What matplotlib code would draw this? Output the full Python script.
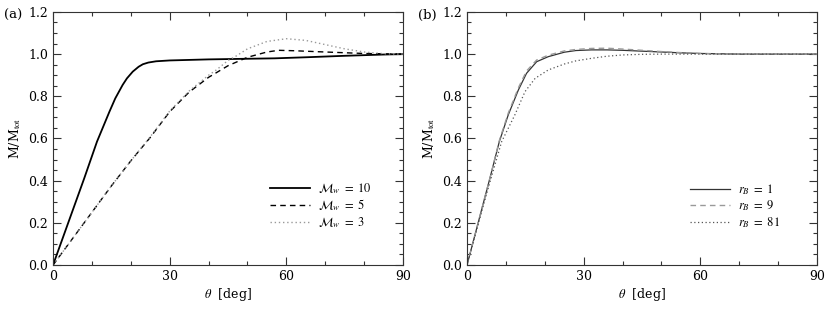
import matplotlib
matplotlib.use("Agg")
import matplotlib.pyplot as plt
from matplotlib.ticker import MultipleLocator

plt.rcParams['font.family'] = ['DejaVu Serif']
plt.rcParams['mathtext.fontset'] = 'stix'
plt.rcParams['font.size'] = 9

# panel (a): Mach number of the wind
theta_m10 = [0, 4, 8, 11.3, 14.5, 16, 17.9, 19, 20.5, 22, 23.1, 24.5, 26.5,
             30, 40, 50, 57, 65, 75, 85, 90]
frac_m10 = [0, 0.205, 0.41, 0.585, 0.727, 0.79, 0.854, 0.885, 0.917, 0.94,
            0.952, 0.96, 0.966, 0.97, 0.975, 0.978, 0.98, 0.985, 0.992, 0.998, 1.0]

theta_m5 = [0, 5, 10, 15, 20, 25, 30, 35, 40, 45, 50, 55, 58, 62, 70, 80, 90]
frac_m5 = [0, 0.125, 0.25, 0.375, 0.494, 0.605, 0.727, 0.82, 0.89, 0.945,
           0.985, 1.01, 1.018, 1.016, 1.01, 1.003, 1.0]

theta_m3 = [0, 5, 10, 15, 20, 25, 30, 35, 40, 42, 45, 47, 50, 55, 60, 65, 70,
            75, 80, 85, 90]
frac_m3 = [0, 0.125, 0.25, 0.375, 0.494, 0.608, 0.73, 0.825, 0.9, 0.925,
           0.97, 0.99, 1.025, 1.06, 1.073, 1.065, 1.045, 1.025, 1.01, 1.002, 1.0]

# panel (b): Bondi radius
theta_rb1 = [0, 2, 4, 6, 8.3, 10.6, 13.2, 15.3, 17.9, 20.9, 25, 28, 32, 36, 40,
             45, 50, 55, 60, 70, 90]
frac_rb1 = [0, 0.14, 0.28, 0.42, 0.585, 0.712, 0.83, 0.909, 0.964, 0.988,
            1.009, 1.017, 1.02, 1.02, 1.018, 1.014, 1.01, 1.006, 1.003, 1.0, 1.0]
frac_rb9 = [0, 0.14, 0.28, 0.42, 0.59, 0.72, 0.84, 0.92, 0.972, 0.995, 1.015,
            1.022, 1.027, 1.028, 1.024, 1.018, 1.012, 1.007, 1.003, 1.0, 1.0]
theta_rb81 = [0, 2, 4, 6, 8.9, 12.3, 14.9, 17.5, 20.9, 25, 28, 32, 36, 40, 45,
              50, 90]
frac_rb81 = [0, 0.135, 0.27, 0.4, 0.585, 0.712, 0.822, 0.885, 0.925, 0.953,
             0.968, 0.98, 0.99, 0.996, 0.999, 1.0, 1.0]

fig = plt.figure(figsize=(8.3, 3.14), dpi=100)
ax1 = fig.add_axes([0.0639, 0.156, 0.4217, 0.806])
ax2 = fig.add_axes([0.5627, 0.156, 0.4217, 0.806])

ax1.plot(theta_m10, frac_m10, color='black', lw=1.3, label=r'$\mathcal{M}_w\ =\ 10$')
ax1.plot(theta_m5, frac_m5, color='black', lw=1.0, ls=(0, (4, 3)), label=r'$\mathcal{M}_w\ =\ 5$')
ax1.plot(theta_m3, frac_m3, color='#999999', lw=1.0, ls=(0, (1, 2)), label=r'$\mathcal{M}_w\ =\ 3$')

ax2.plot(theta_rb1, frac_rb1, color='#333333', lw=0.9, label=r'$r_B\ =\ 1$')
ax2.plot(theta_rb1, frac_rb9, color='#999999', lw=1.0, ls=(0, (4, 3)), label=r'$r_B\ =\ 9$')
ax2.plot(theta_rb81, frac_rb81, color='#555555', lw=0.9, ls=(0, (1, 2)), label=r'$r_B\ =\ 81$')

for ax, tag, legx in [(ax1, '(a)', 0.606), (ax2, '(b)', 0.623)]:
    ax.set_xlim(0, 90)
    ax.set_ylim(0, 1.2)
    ax.xaxis.set_major_locator(MultipleLocator(30))
    ax.xaxis.set_minor_locator(MultipleLocator(10))
    ax.yaxis.set_major_locator(MultipleLocator(0.2))
    ax.yaxis.set_minor_locator(MultipleLocator(0.05))
    ax.set_yticklabels([f'{v:.1f}' for v in ax.get_yticks()])
    ax.tick_params(which='both', direction='in', top=True, right=True,
                   labelsize=9, color='#333333')
    ax.tick_params(which='major', length=6, width=0.8)
    ax.tick_params(which='minor', length=3, width=0.8)
    for sp in ax.spines.values():
        sp.set_color('#333333')
        sp.set_linewidth(0.8)
    ax.set_xlabel(r'$\theta$  [deg]', labelpad=2)
    ax.set_ylabel(r'M/M$_{\rm tot}$', labelpad=4)
    ax.text(-0.14, 0.988, tag, transform=ax.transAxes, ha='left', va='center', fontsize=9.5)
    ax.legend(loc='lower left', bbox_to_anchor=(legx, 0.118), borderaxespad=0,
              frameon=False, handlelength=3.2, handletextpad=0.6,
              labelspacing=0.15, fontsize=9)

fig.savefig('out.png', dpi=100)
